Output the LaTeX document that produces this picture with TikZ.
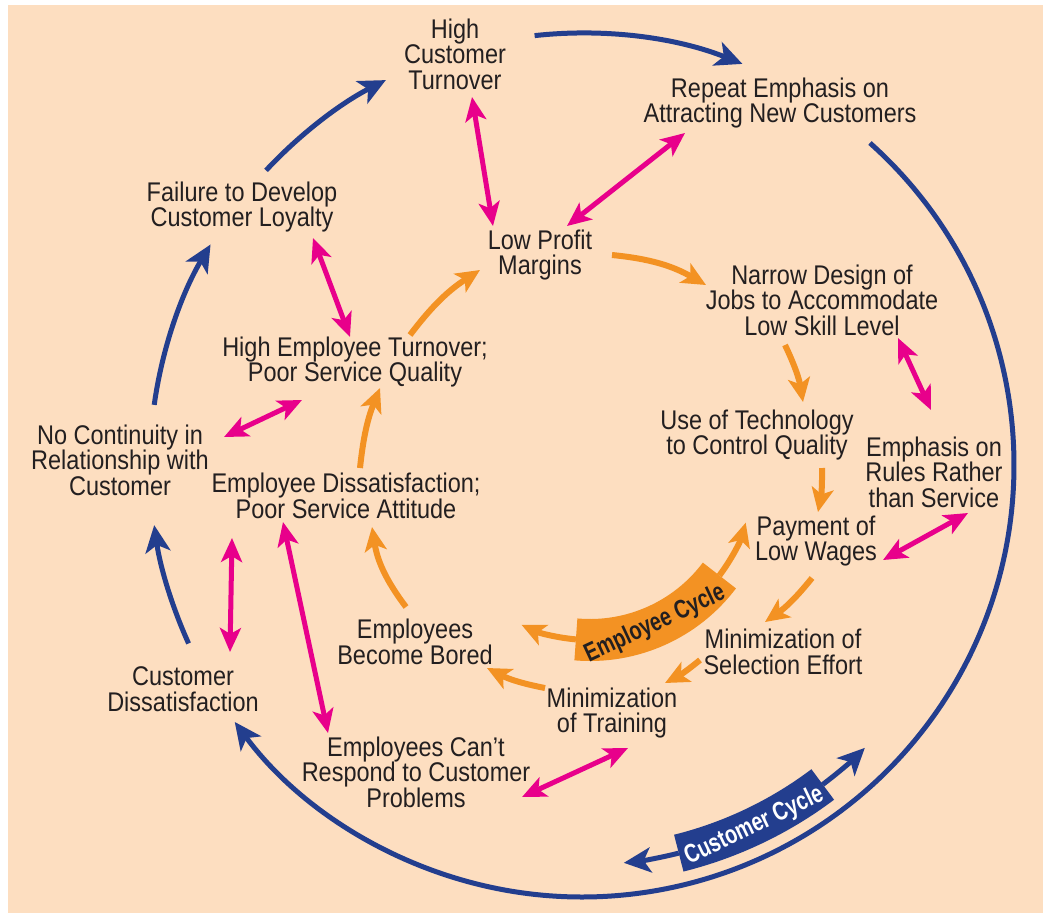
\documentclass[tikz,border=0pt]{standalone}
\usepackage{fontspec}
\setmainfont{Liberation Sans}[FakeStretch=0.87]
\newfontfamily\bannerfont{Liberation Sans}[FakeStretch=0.76]
\usetikzlibrary{arrows.meta,calc}
\definecolor{bgpeach}{RGB}{253,222,192}
\definecolor{cblue}{RGB}{35,62,142}
\definecolor{cmag}{RGB}{232,0,139}
\definecolor{corange}{RGB}{243,146,35}
\definecolor{ctext}{RGB}{35,31,32}
\tikzset{
  lbl/.style={font=\fontsize{27}{25.5}\selectfont, align=center, text=ctext, inner sep=0pt},
  bannertxt/.style={font=\bannerfont\bfseries\fontsize{26}{26}\selectfont, inner sep=0pt},
  bluearr/.style={draw=cblue, line width=5pt, -{Stealth[length=27pt,width=25pt,inset=7pt]}},
  magarr/.style={draw=cmag, line width=5pt, {Stealth[length=24pt,width=21pt,inset=6pt]}-{Stealth[length=24pt,width=21pt,inset=6pt]}},
  orarr/.style={draw=corange, line width=6pt, -{Stealth[length=24pt,width=22pt,inset=6pt]}},
}
\begin{document}
\begin{tikzpicture}[x=1pt,y=-1pt]
\useasboundingbox (0,0) rectangle (1043,913);
\fill[white] (0,0) rectangle (1043,913);
\fill[bgpeach] (8,5) rectangle (1043,913);

% text nodes
\node[lbl] (hct) at (455,54) {High\\Customer\\Turnover};
\node[lbl] (rep) at (780,103) {Repeat Emphasis on\\Attracting New Customers};
\node[lbl] (lpm) at (540,255) {Low Profit\\Margins};
\node[lbl] (fdl) at (242,207) {Failure to Develop\\Customer Loyalty};
\node[lbl] (nd) at (822,300) {Narrow Design of\\Jobs to Accommodate\\Low Skill Level};
\node[lbl] (het) at (355,362) {High Employee Turnover;\\Poor Service Quality};
\node[lbl] (nc) at (120,460) {No Continuity in\\Relationship with\\Customer};
\node[lbl] (ut) at (757,435) {Use of Technology\\to Control Quality};
\node[lbl] (er) at (934,472) {Emphasis on\\Rules Rather\\than Service};
\node[lbl] (ed) at (346,496) {Employee Dissatisfaction;\\Poor Service Attitude};
\node[lbl] (pw) at (816,541) {Payment of\\Low Wages};
\node[lbl] (eb) at (415,642) {Employees\\Become Bored};
\node[lbl] (ms) at (783,652) {Minimization of\\Selection Effort};
\node[lbl] (cd) at (183,689) {Customer\\Dissatisfaction};
\node[lbl] (mt) at (612,713) {Minimization\\of Training};
\node[lbl] (ec) at (416,772) {Employees Can’t\\Respond to Customer\\Problems};

% outer customer cycle
\coordinate (O) at (582,465);
\coordinate (b1) at ($(O)+(96.3:432pt)$);
\coordinate (b2) at ($(O)+(48.2:432pt)$);
\coordinate (b3) at ($(O)+(204.4:432pt)$);
\coordinate (b4) at ($(O)+(172:432pt)$);
\coordinate (b5) at ($(O)+(137:432pt)$);
\draw[bluearr] (b1) arc[start angle=96.3, end angle=68.2, radius=432pt];
\draw[bluearr] (b2) arc[start angle=48.2, end angle=-143.5, radius=432pt];
\draw[bluearr] (b3) arc[start angle=204.4, end angle=188, radius=432pt];
\draw[bluearr] (b4) arc[start angle=172, end angle=149.3, radius=432pt];
\draw[bluearr] (b5) arc[start angle=137, end angle=117, radius=432pt];

% customer cycle banner
\coordinate (cb1) at ($(O)+(-76:400pt)$);
\coordinate (cb2) at ($(O)+(-53:400pt)$);
\draw[bluearr] (cb1) arc[start angle=-76, end angle=-84, radius=400pt];
\draw[bluearr] (cb2) arc[start angle=-53, end angle=-45, radius=400pt];
\draw[cblue, line width=38pt] (cb1) arc[start angle=-76, end angle=-53, radius=400pt];
\node[bannertxt, text=white, rotate=25.5] (ccyc) at ($(O)+(-64.5:400pt)$) {Customer Cycle};

% employee cycle banner
\coordinate (E) at (590,478);
\coordinate (eb1) at ($(E)+(-95:162pt)$);
\coordinate (eb2) at ($(E)+(-37:162pt)$);
\draw[orarr] (eb1) arc[start angle=-95, end angle=-115, radius=162pt];
\draw[orarr] (eb2) arc[start angle=-37, end angle=-16, radius=162pt];
\draw[corange, line width=42pt] (eb1) arc[start angle=-95, end angle=-37, radius=162pt];
\node[bannertxt, text=ctext, rotate=25] (ecyc) at ($(E)+(-66:160pt)$) {Employee Cycle};

% orange arrows
\coordinate (o1s) at (612,255); \coordinate (o1e) at (706,285);
\coordinate (o2s) at (785,345); \coordinate (o2e) at (803,402);
\coordinate (o3s) at (822,468); \coordinate (o3e) at (818,512);
\coordinate (o4s) at (812,578); \coordinate (o4e) at (765,622);
\coordinate (o5s) at (700,660); \coordinate (o5e) at (665,683);
\coordinate (o6s) at (545,688); \coordinate (o6e) at (487,668);
\coordinate (o7s) at (406,607); \coordinate (o7e) at (372,527);
\coordinate (o8s) at (360,468); \coordinate (o8e) at (380,388);
\coordinate (o9s) at (410,335); \coordinate (o9e) at (480,270);
\draw[orarr] (o1s) to[bend left=12] (o1e);
\draw[orarr] (o2s) to[bend left=8] (o2e);
\draw[orarr] (o3s) to[bend left=6] (o3e);
\draw[orarr] (o4s) to[bend left=8] (o4e);
\draw[orarr] (o5s) to[bend left=6] (o5e);
\draw[orarr] (o6s) to[bend left=8] (o6e);
\draw[orarr] (o7s) to[bend left=14] (o7e);
\draw[orarr] (o8s) to[bend left=8] (o8e);
\draw[orarr] (o9s) to[bend left=10] (o9e);

% magenta double arrows
\coordinate (m1a) at (472,97);  \coordinate (m1b) at (493,226);
\coordinate (m2a) at (685,133); \coordinate (m2b) at (567,226);
\coordinate (m3a) at (313,238); \coordinate (m3b) at (350,337);
\coordinate (m4a) at (898,338); \coordinate (m4b) at (931,410);
\coordinate (m5a) at (302,400); \coordinate (m5b) at (224,437);
\coordinate (m6a) at (968,513); \coordinate (m6b) at (883,560);
\coordinate (m7a) at (232,538); \coordinate (m7b) at (230,652);
\coordinate (m8a) at (283,522); \coordinate (m8b) at (328,733);
\coordinate (m9a) at (628,748); \coordinate (m9b) at (522,797);
\draw[magarr] (m1a) -- (m1b);
\draw[magarr] (m2a) -- (m2b);
\draw[magarr] (m3a) -- (m3b);
\draw[magarr] (m4a) -- (m4b);
\draw[magarr] (m5a) -- (m5b);
\draw[magarr] (m6a) -- (m6b);
\draw[magarr] (m7a) -- (m7b);
\draw[magarr] (m8a) -- (m8b);
\draw[magarr] (m9a) -- (m9b);
\end{tikzpicture}
\end{document}
